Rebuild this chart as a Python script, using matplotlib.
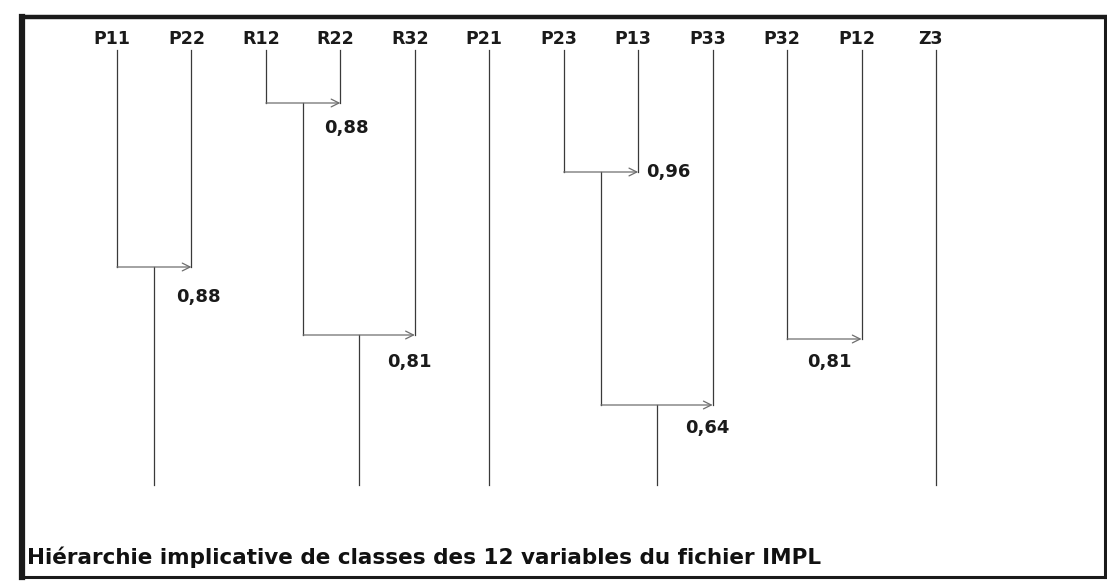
import matplotlib
matplotlib.use("Agg")
import matplotlib.pyplot as plt

# leaves of the implicative hierarchy, left to right
leaves = ['P11', 'P22', 'R12', 'R22', 'R32', 'P21',
          'P23', 'P13', 'P33', 'P32', 'P12', 'Z3']

# merges in order of formation; node i is called 'N<i>'
merge_left = ['R12', 'P23', 'P11', 'N0', 'P32', 'N1']
merge_right = ['R22', 'P13', 'P22', 'R32', 'P12', 'P33']
merge_level = [103, 172, 267, 335, 339, 405]   # depth of the merge bar
merge_value = ['0,88', '0,96', '0,88', '0,81', '0,81', '0,64']

# class stems drawn down to the bottom (as in the original print)
stems = ['N2', 'N3', 'P21', 'N5', 'Z3']

caption = 'Hiérarchie implicative de classes des 12 variables du fichier IMPL'

# ---- style / layout ----
W, H = 1107, 581
leaf_top = 50
stem_bottom = 485
value_offsets = [(6, 25), (30, 0), (7, 30), (-5, 27), (-32, 23), (-5, 23)]
line_col = '#3a3a3a'
merge_col = '#6e6e6e'

fig = plt.figure(figsize=(W / 100, H / 100), dpi=100)
fl, fr, ft, fb = 22, 1105, 17, 577
ax = fig.add_axes([fl / W, (H - fb) / H, (fr - fl) / W, (fb - ft) / H])
step = (936 - 117) / 11.0
ax.set_xlim((fl - 117) / step, (fr - 117) / step)
ax.set_ylim(fb, ft)
ax.set_xticks([])
ax.set_yticks([])
for side, lw in [('left', 4.5), ('top', 3.2), ('right', 2.2), ('bottom', 2.2)]:
    ax.spines[side].set_linewidth(lw)
    ax.spines[side].set_color('#1a1a1a')

xpos = {name: i for i, name in enumerate(leaves)}
ytop = {name: leaf_top for name in leaves}

# leaf labels
for name in leaves:
    ax.annotate(name, (xpos[name], 38.5), xytext=(-5, 0), textcoords='offset pixels',
                ha='center', va='center', fontsize=12.5, fontweight='bold',
                color='#1a1a1a')

for i, (a, b, lev, val) in enumerate(zip(merge_left, merge_right, merge_level, merge_value)):
    # vertical parts coming down to the merge bar
    for n in (a, b):
        ax.plot([xpos[n], xpos[n]], [ytop[n], lev], color=line_col, lw=0.9)
    # bar with arrow towards the implied class
    ax.annotate('', xy=(xpos[b], lev), xytext=(xpos[a], lev),
                arrowprops=dict(arrowstyle='->', color=merge_col, lw=0.9,
                                mutation_scale=14, shrinkA=0, shrinkB=0))
    dx, dy = value_offsets[i]
    ax.annotate(val, (xpos[b], lev), xytext=(dx, -dy), textcoords='offset pixels',
                ha='center', va='center', fontsize=13, fontweight='bold',
                color='#1a1a1a')
    node = 'N%d' % i
    xpos[node] = (xpos[a] + xpos[b]) / 2.0
    ytop[node] = lev

for n in stems:
    ax.plot([xpos[n], xpos[n]], [ytop[n], stem_bottom], color=line_col, lw=0.9)

ax.annotate(caption, (0, 557), xycoords=ax.get_yaxis_transform(),
            xytext=(5, 0), textcoords='offset pixels',
            ha='left', va='center', fontsize=15.5, fontweight='bold',
            color='#111111')

fig.savefig('out.png', dpi=100)
